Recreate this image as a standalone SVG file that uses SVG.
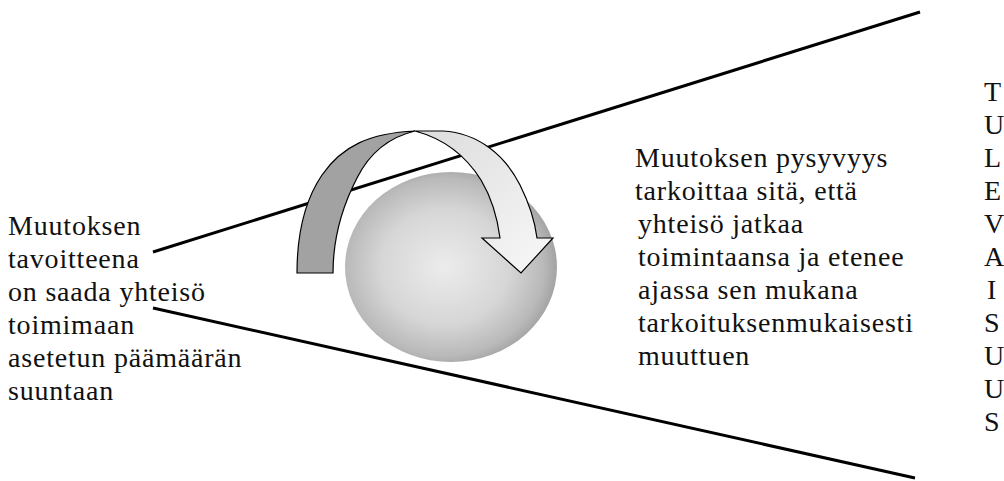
<svg xmlns="http://www.w3.org/2000/svg" width="1004" height="481" viewBox="0 0 1004 481">
  <defs>
    <radialGradient id="ballGrad" cx="0.47" cy="0.5" r="0.55">
      <stop offset="0" stop-color="#ececec"/>
      <stop offset="0.55" stop-color="#d6d6d6"/>
      <stop offset="0.85" stop-color="#b9b9b9"/>
      <stop offset="1" stop-color="#9c9c9c"/>
    </radialGradient>
    <linearGradient id="frontGrad" x1="0" y1="0" x2="1" y2="1">
      <stop offset="0" stop-color="#dcdcdc"/>
      <stop offset="1" stop-color="#f8f8f8"/>
    </linearGradient>
  </defs>
  <style>
    text { font-size: 28px; letter-spacing: 0.8px; fill: #111; }
    .line { stroke: #000; stroke-width: 3; fill: none; }
    .edge { stroke: #000; stroke-width: 1.2; stroke-linejoin: miter; }
  </style>

  <g id="connectors">
    <line class="line" x1="153" y1="252" x2="920" y2="12"/>
    <line class="line" x1="153" y1="308" x2="915" y2="478"/>
  </g>

  <g id="sphere">
    <ellipse cx="451" cy="267" rx="106" ry="95" fill="url(#ballGrad)"/>
  </g>

  <g id="turn-arrow">
    <path class="edge" fill="#a2a2a2" d="M297,273 C297,235 305,200 322,175 C342,146 370,133 415,131 C390,137 370,152 357,178 C342,207 333,238 333,273 Z"/>
    <path class="edge" fill="url(#frontGrad)" d="M415,131 L443,131 C478,133 505,155 520,185 C530,205 535,222 537,238 L553,238 L521,273 L482,238 L500,238 C497,215 490,195 481,180 C466,156 445,139 415,131 Z"/>
  </g>

  <g id="left-text" font-family="Liberation Serif, serif">
    <text x="8" y="235">Muutoksen</text>
    <text x="8" y="268">tavoitteena</text>
    <text x="8" y="301">on saada yhteisö</text>
    <text x="8" y="334">toimimaan</text>
    <text x="8" y="367">asetetun päämäärän</text>
    <text x="8" y="400">suuntaan</text>
  </g>

  <g id="middle-text" font-family="Liberation Serif, serif">
    <text x="635" y="167">Muutoksen pysyvyys</text>
    <text x="635" y="200">tarkoittaa sitä, että</text>
    <text x="638" y="233">yhteisö jatkaa</text>
    <text x="638" y="266">toimintaansa ja etenee</text>
    <text x="638" y="299">ajassa sen mukana</text>
    <text x="638" y="332">tarkoituksenmukaisesti</text>
    <text x="638" y="365">muuttuen</text>
  </g>

  <g id="right-text" font-family="Liberation Serif, serif">
    <text x="984" y="101">T</text>
    <text x="984" y="134">U</text>
    <text x="984" y="167">L</text>
    <text x="984" y="200">E</text>
    <text x="984" y="233">V</text>
    <text x="984" y="266">A</text>
    <text x="987" y="299">I</text>
    <text x="984" y="332">S</text>
    <text x="984" y="365">U</text>
    <text x="984" y="398">U</text>
    <text x="984" y="431">S</text>
  </g>
</svg>
